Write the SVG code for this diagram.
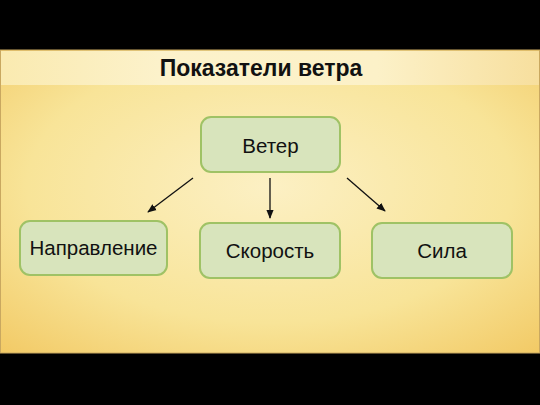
<svg xmlns="http://www.w3.org/2000/svg" width="540" height="405" viewBox="0 0 540 405">
<defs>
<radialGradient id="bg" cx="0.5" cy="0.45" r="0.75">
<stop offset="0" stop-color="#fcf0c4"/>
<stop offset="0.6" stop-color="#f8e498"/>
<stop offset="1" stop-color="#f2c964"/>
</radialGradient>
<linearGradient id="band" x1="0" y1="0" x2="1" y2="0">
<stop offset="0" stop-color="#faeab0"/>
<stop offset="0.3" stop-color="#fcf2cb"/>
<stop offset="0.7" stop-color="#fcf1c8"/>
<stop offset="1" stop-color="#f7df9e"/>
</linearGradient>
<marker id="ah" viewBox="0 0 10 10" refX="9" refY="5" markerWidth="7" markerHeight="7" orient="auto">
<path d="M0,1 L10,5 L0,9 z" fill="#111"/>
</marker>
<style>
.node rect{fill:#d8e4bc;stroke:#9fc265;stroke-width:2}
.node text{font-family:"Liberation Sans",Arial,sans-serif;font-size:20.5px;fill:#111;text-anchor:middle}
.conn line{stroke:#111;stroke-width:1.3;marker-end:url(#ah)}
</style>
</defs>
<rect x="0" y="0" width="540" height="405" fill="#000"/>
<rect x="0.5" y="50" width="539" height="303" fill="url(#bg)" stroke="#c9a860" stroke-width="1"/>
<rect x="1" y="51" width="538" height="34" fill="url(#band)"/>
<text x="261" y="76" font-family="'Liberation Sans',Arial,sans-serif" font-size="23" font-weight="bold" text-anchor="middle" fill="#111">Показатели ветра</text>
<g class="conn">
<line x1="193" y1="178" x2="148" y2="212"/>
<line x1="270" y1="178" x2="270" y2="218"/>
<line x1="347" y1="178" x2="385" y2="211"/>
</g>
<g id="veter" class="node"><rect x="201" y="117" width="139" height="55" rx="10"/><text x="270.5" y="153">Ветер</text></g>
<g id="napravlenie" class="node"><rect x="20" y="221" width="147" height="54" rx="10"/><text x="93.5" y="255">Направление</text></g>
<g id="skorost" class="node"><rect x="200" y="223" width="140" height="55" rx="10"/><text x="270" y="258">Скорость</text></g>
<g id="sila" class="node"><rect x="372" y="223" width="140" height="55" rx="10"/><text x="442" y="258">Сила</text></g>
</svg>
